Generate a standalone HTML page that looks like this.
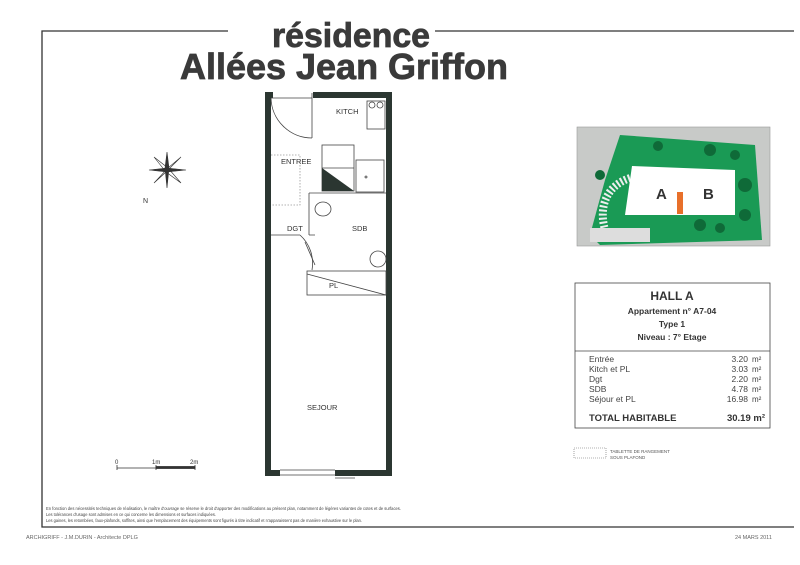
<!DOCTYPE html>
<html><head><meta charset="utf-8"><style>
html,body{margin:0;padding:0;background:#fff;}
svg{display:block;font-family:"Liberation Sans",sans-serif;}
</style></head><body>
<svg width="800" height="565" viewBox="0 0 800 565" xmlns="http://www.w3.org/2000/svg">
<!-- frame -->
<g stroke="#333" stroke-width="1.3" fill="none">
<path d="M228 31 H42 V527 H794"/>
<path d="M435 31 H794"/>
</g>
<!-- title -->
<g fill="#3a3a3a" font-weight="bold" stroke="#3a3a3a" stroke-width="0.8">
<text x="272" y="47" font-size="34" textLength="158" lengthAdjust="spacingAndGlyphs">résidence</text>
<text x="180" y="79" font-size="36" textLength="328" lengthAdjust="spacingAndGlyphs">Allées  Jean Griffon</text>
</g>
<!-- compass -->
<g stroke="#333" fill="#333" stroke-width="0.6">
<polygon points="167,152 169,168 167,188 165,168" />
<polygon points="149,170 167,168 186,170 167,172" />
<polygon points="154,157 168,168 181,183 166,172" fill="none"/>
<polygon points="181,157 168,168 154,183 166,172" fill="none"/>
</g>
<text x="143" y="203" font-size="7" fill="#333">N</text>
<!-- plan -->
<g fill="#2b3631">
<rect x="265" y="92" width="6" height="384"/>
<rect x="313" y="92" width="79" height="6"/>
<rect x="265" y="92" width="8" height="6"/>
<rect x="386" y="92" width="6" height="384"/>
<rect x="265" y="470" width="15" height="6"/>
<rect x="335" y="470" width="57" height="6"/>
</g>
<g stroke="#444" stroke-width="0.8" fill="none">
<path d="M271 98 H312 M312 93 V138 M312 138 A41 41 0 0 1 271 98"/>
<rect x="367" y="101" width="18" height="28"/>
<circle cx="372" cy="105" r="3"/><circle cx="380" cy="105" r="3"/>
<rect x="322" y="145" width="32" height="46"/>
<path d="M322 168 H354"/>
<rect x="356" y="160" width="28" height="32"/>
<circle cx="366" cy="177" r="1"/>
<path d="M309 193 H386"/>
<path d="M309 193 V235 M309 235 H315"/>
<ellipse cx="323" cy="209" rx="8" ry="7"/>
<path d="M271 235 H300 M300 235 A38 38 0 0 1 312 270"/>
<path d="M305 242 L315 265"/>
<rect x="307" y="271" width="79" height="24"/>
<path d="M307 274 L386 295"/>
<circle cx="378" cy="259" r="8"/>
<path d="M280 470 H335 M280 475 H335 M335 478 H355"/>
<path d="M271 155 H300 V205 H271" stroke-dasharray="1.5 1.5" stroke="#999"/>
</g>
<polygon points="322,168 354,191 322,191" fill="#2b3631"/>
<g font-size="7.5" fill="#333">
<text x="336" y="114">KITCH</text>
<text x="281" y="164">ENTREE</text>
<text x="287" y="231">DGT</text>
<text x="352" y="231">SDB</text>
<text x="329" y="288">PL</text>
<text x="307" y="410">SEJOUR</text>
</g>
<!-- scale -->
<g stroke="#333" stroke-width="0.8" fill="none">
<path d="M117 468 H195 M117 465 V470 M156 465 V470 M195 465 V470"/>
<rect x="156" y="466.5" width="39" height="2" fill="#333"/>
</g>
<g font-size="6" fill="#333"><text x="115" y="464">0</text><text x="152" y="464">1m</text><text x="190" y="464">2m</text></g>
<!-- site plan -->
<rect x="577" y="127" width="193" height="119" fill="#c8cac8" stroke="#999" stroke-width="0.6"/>
<polygon points="620,135 755,145 762,240 600,245 590,235 605,180" fill="#1a9a55"/>
<path d="M630 178 C608 185 598 205 605 230" stroke="#eee" stroke-width="8" fill="none" stroke-dasharray="2 2"/>
<polygon points="632,166 735,170 735,215 625,215" fill="#fff"/>
<rect x="590" y="228" width="60" height="14" fill="#ddd"/>
<rect x="677" y="192" width="6" height="22" fill="#e8702a"/>
<g font-size="15" font-weight="bold" fill="#333"><text x="656" y="199">A</text><text x="703" y="199">B</text></g>
<g fill="#0f6a38"><circle cx="658" cy="146" r="5"/><circle cx="710" cy="150" r="6"/><circle cx="745" cy="185" r="7"/><circle cx="700" cy="225" r="6"/><circle cx="745" cy="215" r="6"/><circle cx="735" cy="155" r="5"/><circle cx="600" cy="175" r="5"/><circle cx="720" cy="228" r="5"/></g>
<!-- table -->
<rect x="575" y="283" width="195" height="145" fill="none" stroke="#444" stroke-width="0.8"/>
<path d="M575 351 H770" stroke="#444" stroke-width="0.8"/>
<g fill="#333" font-weight="bold" text-anchor="middle">
<text x="672" y="300" font-size="12">HALL A</text>
<text x="672" y="314" font-size="8.5">Appartement n° A7-04</text>
<text x="672" y="327" font-size="8.5">Type 1</text>
<text x="672" y="340" font-size="8.5">Niveau :  7° Etage</text>
</g>
<g fill="#444" font-size="8.5">
<text x="589" y="362">Entrée</text><text x="589" y="372">Kitch  et  PL</text><text x="589" y="382">Dgt</text><text x="589" y="392">SDB</text><text x="589" y="402">Séjour  et  PL</text>
</g>
<g fill="#444" font-size="8.5" text-anchor="end">
<text x="748" y="362">3.20</text><text x="748" y="372">3.03</text><text x="748" y="382">2.20</text><text x="748" y="392">4.78</text><text x="748" y="402">16.98</text>
</g>
<g fill="#444" font-size="8"><text x="752" y="362">m²</text><text x="752" y="372">m²</text><text x="752" y="382">m²</text><text x="752" y="392">m²</text><text x="752" y="402">m²</text></g>
<text x="589" y="421" font-size="9.5" font-weight="bold" fill="#333">TOTAL HABITABLE</text>
<text x="765" y="421" font-size="9.5" font-weight="bold" fill="#333" text-anchor="end">30.19 m²</text>
<!-- legend -->
<rect x="574" y="448" width="32" height="10" fill="none" stroke="#666" stroke-width="0.6" stroke-dasharray="1 1"/>
<g font-size="4.5" fill="#555"><text x="610" y="453">TABLETTE  DE  RANGEMENT</text><text x="610" y="459">SOUS  PLAFOND</text></g>
<!-- notes -->
<g font-size="4.2" fill="#444">
<text x="46" y="510" textLength="355" lengthAdjust="spacingAndGlyphs">En fonction des nécessités techniques de réalisation, le maître d'ouvrage se réserve le droit d'apporter des modifications au présent plan, notamment de légères variantes de cotes et de surfaces.</text>
<text x="46" y="516" textLength="170" lengthAdjust="spacingAndGlyphs">Les tolérances d'usage sont admises en ce qui concerne les dimensions et surfaces indiquées.</text>
<text x="46" y="522" textLength="316" lengthAdjust="spacingAndGlyphs">Les gaines, les retombées, faux-plafonds, soffites, ainsi que l'emplacement des équipements sont figurés à titre indicatif et n'apparaissent pas de manière exhaustive sur le plan.</text>
</g>
<g font-size="5.5" fill="#666">
<text x="26" y="539">ARCHIGRIFF  -  J.M.DURIN  -  Architecte  DPLG</text>
<text x="735" y="539">24  MARS  2011</text>
</g>
</svg>
</body></html>
